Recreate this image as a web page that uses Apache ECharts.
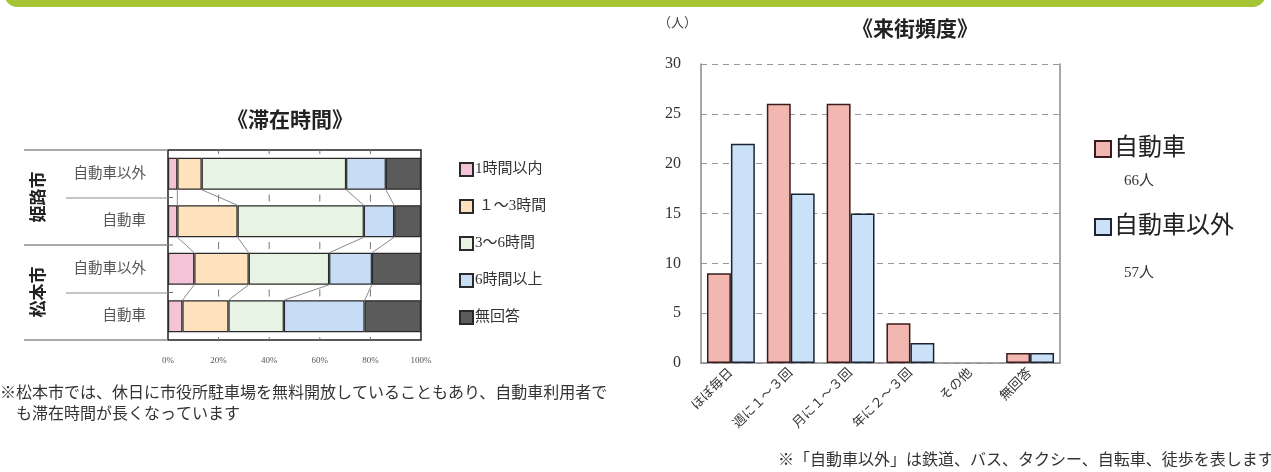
<!DOCTYPE html>
<html lang="ja">
<head>
<meta charset="utf-8">
<title>滞在時間・来街頻度</title>
<script src="https://cdn.jsdelivr.net/npm/echarts@6/dist/echarts.min.js"></script>
<style>
  html, body { margin: 0; padding: 0; background: #fff; }
  #chart { width: 1271px; height: 472px; }
</style>
</head>
<body>
<div id="chart"></div>
<script>
// ---- 滞在時間 (percent of respondents, per row) ----
const stayRows = ['自動車以外', '自動車', '自動車以外', '自動車'];
const stayCities = ['姫路市', '松本市'];
const stayNames = ['1時間以内', ' １～3時間', '3～6時間', '6時間以上', '無回答'];
const under1h  = [3.7, 3.7, 10.4, 5.7];
const h1to3    = [9.6, 23.8, 21.5, 18.2];
const h3to6    = [57.1, 49.9, 31.8, 21.9];
const over6h   = [15.7, 12.0, 16.9, 31.9];
const noAnswer = [13.9, 10.6, 19.4, 22.3];
const stayTicks = [0, 20, 40, 60, 80, 100];

// ---- 来街頻度 (people) ----
const freqCats = ['ほぼ毎日', '週に１～３回', '月に１～３回', '年に２～３回', 'その他', '無回答'];
const carUsers    = [9, 26, 26, 4, 0, 1];
const nonCarUsers = [22, 17, 15, 2, 0, 1];

const SERIF = "'Liberation Serif', 'DejaVu Serif', 'Noto Sans CJK JP', serif";
const SANS = "'Noto Sans CJK JP', sans-serif";
const stayColors = ['#f3c3d7', '#fde2bd', '#e7f3e3', '#c7ddf5', '#5b5b5b'];
const STAY_BAR = 32;

const staySeriesData = [under1h, h1to3, h3to6, over6h, noAnswer];
// cumulative right edge of every segment, per row
const stayCum = stayRows.map((_, r) => {
  let s = 0;
  return staySeriesData.map(arr => (s += arr[r]));
});

const chart = echarts.init(document.getElementById('chart'));

const staySeries = staySeriesData.map((arr, k) => ({
  name: stayNames[k],
  type: 'bar',
  stack: 'stay',
  xAxisIndex: 0,
  yAxisIndex: 0,
  barWidth: STAY_BAR,
  data: arr,
  itemStyle: { color: stayColors[k], borderColor: '#2a2a2a', borderWidth: 1.2 },
  emphasis: { disabled: true }
}));

// thin guide lines joining segment edges of neighbouring rows
const connectorSeries = {
  type: 'custom',
  xAxisIndex: 0,
  yAxisIndex: 0,
  clip: false,
  silent: true,
  z: 3,
  data: [[0, 0], [0, 1], [0, 2]],
  renderItem(params, api) {
    const r = api.value(1);
    const children = [];
    for (let k = 0; k < 4; k++) {
      const a = api.coord([stayCum[r][k], r]);
      const b = api.coord([stayCum[r + 1][k], r + 1]);
      children.push({
        type: 'line',
        shape: { x1: a[0], y1: a[1] + STAY_BAR / 2, x2: b[0], y2: b[1] - STAY_BAR / 2 },
        style: { stroke: '#8a8a8a', lineWidth: 1 }
      });
    }
    return { type: 'group', children };
  }
};

// small tick marks on row boundaries at each 20% step
const tickSeries = {
  type: 'custom',
  xAxisIndex: 0,
  yAxisIndex: 0,
  clip: false,
  silent: true,
  z: 3,
  data: [[0, 0]],
  renderItem(params, api) {
    const children = [];
    const band = api.size([0, 1])[1];
    for (let r = 0; r <= stayRows.length; r++) {
      const yc = api.coord([0, 0])[1] - band / 2 + r * band;
      for (let t = 1; t < stayTicks.length - 1; t++) {
        const x = api.coord([stayTicks[t], 0])[0];
        const y1 = r === 0 ? yc : yc - 3;
        const y2 = r === stayRows.length ? yc : yc + 4;
        children.push({ type: 'line', shape: { x1: x, y1: y1, x2: x, y2: y2 },
          style: { stroke: '#777', lineWidth: 1 } });
      }
      const x0 = api.coord([0, 0])[0];
      if (r > 0 && r < stayRows.length) {
        children.push({ type: 'line', shape: { x1: x0, y1: yc, x2: x0 + 5, y2: yc },
          style: { stroke: '#777', lineWidth: 1 } });
      }
    }
    return { type: 'group', children };
  }
};

// zero counts draw nothing (no outline)
const freqData = arr => arr.map(v => (v === 0 ? { value: v, itemStyle: { borderWidth: 0 } } : v));
const freqBarStyle = (fill, border) => ({ color: fill, borderColor: border, borderWidth: 1.5 });

const sum = arr => arr.reduce((a, b) => a + b, 0);

const option = {
  animation: false,
  backgroundColor: '#ffffff',
  title: [
    { text: '《滞在時間》', left: 285, top: 104, textAlign: 'center',
      textStyle: { fontFamily: SANS, fontSize: 21, fontWeight: 'bold', color: '#222' } },
    { text: '《来街頻度》', left: 910, top: 13, textAlign: 'center',
      textStyle: { fontFamily: SANS, fontSize: 21, fontWeight: 'bold', color: '#222' } }
  ],
  legend: [
    {
      data: stayNames,
      orient: 'vertical',
      left: 454,
      top: 157,
      itemWidth: 13,
      itemHeight: 13,
      itemGap: 22,
      icon: 'rect',
      selectedMode: false,
      textStyle: { fontFamily: SERIF, fontSize: 15, color: '#333', padding: [0, 0, 0, -3] }
    },
    {
      data: ['自動車', '自動車以外'],
      orient: 'vertical',
      left: 1089,
      top: 132,
      itemWidth: 16,
      itemHeight: 16,
      itemGap: 54,
      icon: 'rect',
      selectedMode: false,
      textStyle: { fontFamily: SERIF, fontSize: 24, color: '#222', padding: [0, 0, 0, -2] }
    }
  ],
  grid: [
    { left: 168, right: 850, top: 150, bottom: 132, show: true,
      borderColor: '#222', borderWidth: 1.5, backgroundColor: 'transparent' },
    { left: 701, right: 211, top: 64, bottom: 109 }
  ],
  xAxis: [
    {
      gridIndex: 0, type: 'value', min: 0, max: 100, interval: 20,
      axisLine: { show: false }, axisTick: { show: false }, splitLine: { show: false },
      axisLabel: { formatter: '{value}%', margin: 16, fontFamily: SERIF, fontSize: 9, color: '#555' }
    },
    {
      gridIndex: 1, type: 'category', data: freqCats,
      axisLine: { lineStyle: { color: '#8a8a8a', width: 1.5 } },
      axisTick: { inside: true, length: 5, lineStyle: { color: '#8a8a8a' } },
      axisLabel: { rotate: 45, margin: 8, fontFamily: SERIF, fontSize: 13, color: '#333', interval: 0 }
    }
  ],
  yAxis: [
    {
      gridIndex: 0, type: 'category', data: stayRows, inverse: true,
      axisLine: { show: false }, axisTick: { show: false },
      axisLabel: { margin: 22, fontFamily: SERIF, fontSize: 14.5, color: '#555' }
    },
    {
      gridIndex: 1, type: 'value', min: 0, max: 30, interval: 5,
      name: '（人）', nameLocation: 'end', nameGap: 34,
      nameTextStyle: { fontFamily: SERIF, fontSize: 13, color: '#444', align: 'right', padding: [0, 4, 0, 0] },
      axisLine: { show: true, lineStyle: { color: '#8a8a8a', width: 1.5 } },
      axisTick: { show: false },
      splitLine: { lineStyle: { color: '#9a9a9a', type: [6, 5], width: 1.2 } },
      axisLabel: { margin: 20, fontFamily: SERIF, fontSize: 16, color: '#333' }
    },
    {
      gridIndex: 1, type: 'value', min: 0, max: 30, interval: 5, position: 'right',
      axisLine: { show: true, lineStyle: { color: '#8a8a8a', width: 1.5 } },
      axisTick: { show: false }, axisLabel: { show: false }, splitLine: { show: false }
    }
  ],
  series: [
    ...staySeries,
    connectorSeries,
    tickSeries,
    {
      name: '自動車', type: 'bar', xAxisIndex: 1, yAxisIndex: 1,
      barGap: '0%', barCategoryGap: '20%', data: freqData(carUsers),
      itemStyle: freqBarStyle('#f2b7b1', '#3a1c1c')
    },
    {
      name: '自動車以外', type: 'bar', xAxisIndex: 1, yAxisIndex: 1,
      barGap: '0%', barCategoryGap: '20%', data: freqData(nonCarUsers),
      itemStyle: freqBarStyle('#cae1f7', '#1c2433')
    }
  ],
  graphic: [
    // header band
    { type: 'rect', left: 4, top: -20, shape: { width: 1262, height: 27, r: 15 },
      style: { fill: '#a6c534' }, z: 0 },
    // table rules beside the stacked bars
    ...[150, 245, 340].map(y => ({ type: 'line', shape: { x1: 24, y1: y, x2: 168, y2: y },
      style: { stroke: '#8c8c8c', lineWidth: 1.5 } })),
    ...[198, 293].map(y => ({ type: 'line', shape: { x1: 66, y1: y, x2: 168, y2: y },
      style: { stroke: '#8c8c8c', lineWidth: 1.2 } })),
    ...stayCities.map((c, i) => ({
      type: 'text', x: 38, y: 197 + i * 95, rotation: Math.PI / 2,
      style: { text: c, fontFamily: SANS, fontSize: 17, fontWeight: 'bold', fill: '#222',
        textAlign: 'center', textVerticalAlign: 'middle' }
    })),
    // respondent totals under the legend entries
    { type: 'text', left: 1124, top: 174,
      style: { text: sum(carUsers) + '人', fontFamily: SERIF, fontSize: 15, fill: '#333' } },
    { type: 'text', left: 1124, top: 266,
      style: { text: sum(nonCarUsers) + '人', fontFamily: SERIF, fontSize: 15, fill: '#333' } },
    // notes
    { type: 'text', left: 0, top: 383,
      style: { text: '※松本市では、休日に市役所駐車場を無料開放していることもあり、自動車利用者で\n　も滞在時間が長くなっています',
        fontFamily: SERIF, fontSize: 16, lineHeight: 21, fill: '#333' } },
    { type: 'text', left: 778, top: 453,
      style: { text: '※「自動車以外」は鉄道、バス、タクシー、自転車、徒歩を表します',
        fontFamily: SERIF, fontSize: 16, fill: '#333' } }
  ]
};

chart.setOption(option);
</script>
</body>
</html>
